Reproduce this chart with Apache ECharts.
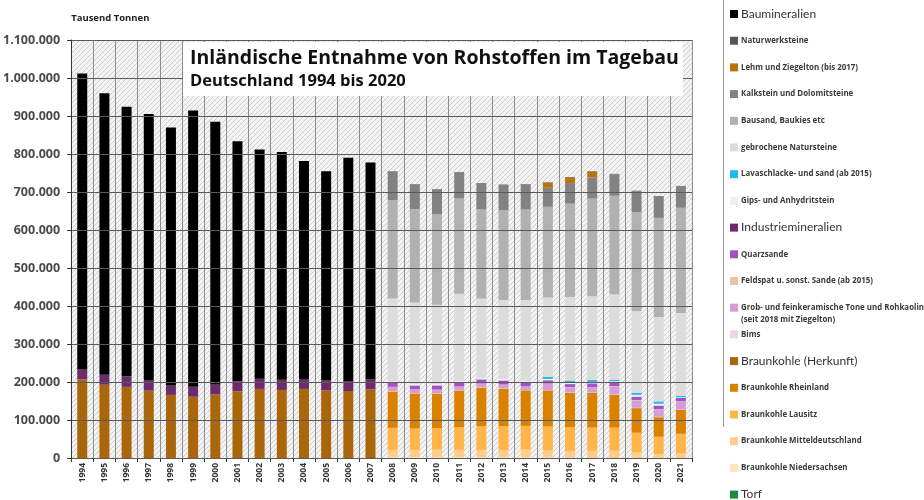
<!DOCTYPE html>
<html>
<head>
<meta charset='utf-8' />
<title>Entnahme von Rohstoffen im Tagebau</title>
<style>
html, body { margin: 0; padding: 0; background: #fff; }
#chart { width: 924px; height: 500px; }
</style>
</head>
<body>
<div id="chart"></div>
<script src="https://cdn.jsdelivr.net/npm/echarts@6/dist/echarts.min.js"></script>
<script>
// Werte in Mio. t (Achse zeigt Tausend Tonnen)
var years = ['1994','1995','1996','1997','1998','1999','2000','2001','2002','2003','2004','2005','2006','2007',
             '2008','2009','2010','2011','2012','2013','2014','2015','2016','2017','2018','2019','2020','2021'];

// 1994-2007: nur Hauptgruppen
var baumineralienOld = [779, 741, 710, 701, 679, 727, 691, 631, 603, 599, 574, 551, 588, 570];
var industrieOld     = [26, 26, 27, 27, 25, 26, 26, 27, 27, 27, 26, 26, 26, 27];
var braunkohleOld    = [207.1, 192.8, 187.2, 177.2, 166.0, 161.3, 167.7, 175.4, 181.8, 179.1, 181.9, 177.9, 176.3, 180.4];

// 2008-2021: Aufteilung
var naturwerk   = [1.5, 1.5, 1.5, 1.5, 1.5, 1.5, 1.5, 1.5, 1.5, 1.5, 1.5, 1.5, 1.5, 1.5];
var lehm        = ['-', '-', '-', '-', '-', '-', '-', 12.5, 14.5, 14.5, '-', '-', '-', '-'];
var kalkstein   = [74, 64, 65, 68, 67, 66, 65, 50, 54, 56, 56, 55, 56, 56];
var bausand     = [259, 246, 238, 251, 235, 236, 238, 239, 246, 257, 259, 260, 261, 277];
var gebrochen   = [218, 214, 208, 229, 209, 208, 213, 209, 220, 220, 226, 215, 222, 218];
var lava        = ['-', '-', '-', '-', '-', '-', '-', 5, 5, 5, 3, 5.5, 6, 3.5];
var gips        = [4, 4, 4, 4, 4, 4, 4, 3.5, 4, 4, 4, 5, 5, 2];
var quarzsande  = [10.5, 10, 10.6, 10.5, 10.6, 10.3, 9.8, 8.7, 8, 10.5, 8.9, 8.5, 9.5, 8.7];
var feldspat    = ['-', '-', '-', '-', '-', '-', '-', 1, 1, 1, 1, 1, 1, 1];
var tone        = [11, 10, 10, 11, 10, 10, 10, 15.8, 13, 12.7, 21, 19.5, 19, 21];
var bims        = [1.2, 1, 1, 1, 1, 1, 1, 1, 1, 1, 1, 1, 1, 1];
var rheinland   = [95.8, 92.2, 90.7, 95.6, 101.7, 98.8, 93.6, 95.2, 90.5, 91.3, 86.3, 64.8, 51.4, 62.6];
var lausitz     = [57.9, 56.3, 56.7, 59.4, 62.4, 63.6, 61.8, 62.5, 62.3, 61.2, 60.7, 52.1, 45.9, 51.9];
var mitteldt    = [19.4, 19.4, 20.0, 19.6, 19.2, 18.3, 20.9, 18.9, 17.7, 18.8, 19.3, 14.4, 10.1, 11.8];
var niedersachs = [2.1, 2.0, 2.0, 1.9, 2.1, 2.0, 1.9, 1.5, 1.0, '-', '-', '-', '-', '-'];
var torf        = [];

var yTicks = [0, 100, 200, 300, 400, 500, 600, 700, 800, 900, 1000, 1100];

function early(a) { return a.concat(Array(14).fill('-')); }
function late(a) { return a.length ? Array(14).fill('-').concat(a) : []; }

function fmt(v) {
  return String(Math.round(v * 1000)).replace(/\B(?=(\d{3})+(?!\d))/g, '.');
}

// schraffierter Hintergrund
var pc = document.createElement('canvas');
pc.width = 5; pc.height = 5;
var g = pc.getContext('2d');
g.fillStyle = '#f3f3f3';
g.fillRect(0, 0, 5, 5);
g.strokeStyle = '#cfcfcf';
g.lineWidth = 1;
g.beginPath();
g.moveTo(0, 5); g.lineTo(5, 0);
g.moveTo(-1, 1); g.lineTo(1, -1);
g.moveTo(4, 6); g.lineTo(6, 4);
g.stroke();

// Reihenfolge von unten nach oben
var stackDef = [
  ['Torf', '#1b8a3c', late(torf)],
  ['Braunkohle Niedersachsen', '#ffe4c2', late(niedersachs)],
  ['Braunkohle Mitteldeutschland', '#ffcd8a', late(mitteldt)],
  ['Braunkohle Lausitz', '#ffb548', late(lausitz)],
  ['Braunkohle Rheinland', '#da8200', late(rheinland)],
  ['Braunkohle (Herkunft)', '#a9660a', early(braunkohleOld)],
  ['Bims', '#ecd3ec', late(bims)],
  ['Grob- und feinkeramische Tone und Rohkaolin', '#d59cd5', late(tone)],
  ['Feldspat u. sonst. Sande (ab 2015)', '#e9c4ab', late(feldspat)],
  ['Quarzsande', '#a452c2', late(quarzsande)],
  ['Industriemineralien', '#6c2c6c', early(industrieOld)],
  ['Gips- und Anhydritstein', '#efefef', late(gips)],
  ['Lavaschlacke- und sand (ab 2015)', '#1cb9f2', late(lava)],
  ['gebrochene Natursteine', '#dcdcdc', late(gebrochen)],
  ['Bausand, Baukies etc', '#b1b1b1', late(bausand)],
  ['Kalkstein und Dolomitsteine', '#828282', late(kalkstein)],
  ['Lehm und Ziegelton (bis 2017)', '#bb7208', late(lehm)],
  ['Naturwerksteine', '#575757', late(naturwerk)],
  ['Baumineralien', '#000000', early(baumineralienOld)]
];

var bigNames = ['Baumineralien', 'Industriemineralien', 'Braunkohle (Herkunft)', 'Torf'];

var series = stackDef.map(function (d) {
  return {
    name: d[0],
    type: 'bar',
    stack: 'total',
    barWidth: '45%',
    data: d[2],
    itemStyle: { color: d[1] },
    emphasis: { disabled: true }
  };
});

var legends = stackDef.slice().reverse().map(function (d, i) {
  var big = bigNames.indexOf(d[0]) >= 0;
  return {
    data: [d[0]],
    left: 730,
    top: 7 + i * 26.7,
    padding: 0,
    itemGap: 0,
    itemWidth: 8,
    itemHeight: 8,
    icon: 'rect',
    selectedMode: false,
    textStyle: big
      ? { fontFamily: 'Lato', fontSize: 12, color: '#333', lineHeight: 14, padding: [0, 0, 0, -2] }
      : { fontFamily: 'Open Sans', fontSize: 7.9, fontWeight: 'bold', color: '#3a3a3a', lineHeight: 14, padding: [0, 0, 0, -2] }
  };
});

var chart = echarts.init(document.getElementById('chart'));
chart.setOption({
  animation: false,
  backgroundColor: '#fff',
  textStyle: { fontFamily: 'Open Sans' },
  title: {
    text: 'Inländische Entnahme von Rohstoffen im Tagebau',
    subtext: 'Deutschland 1994 bis 2020',
    left: 183,
    top: 42,
    padding: [6, 4, 6, 7],
    itemGap: 5,
    backgroundColor: '#fff',
    textStyle: { fontFamily: 'Open Sans', fontSize: 19.5, fontWeight: 'bold', color: '#111' },
    subtextStyle: { fontFamily: 'Open Sans', fontSize: 16.5, fontWeight: 'bold', color: '#111' }
  },
  legend: legends,
  grid: {
    left: 67, right: 232, top: 40, bottom: 42,
    show: true,
    borderWidth: 0,
    backgroundColor: { image: pc, repeat: 'repeat' }
  },
  xAxis: {
    type: 'category',
    data: years,
    boundaryGap: true,
    axisLine: { lineStyle: { color: '#333' } },
    axisTick: { show: true, length: 4, lineStyle: { color: '#333' } },
    axisLabel: { interval: 0, rotate: 90, margin: 5, fontSize: 8.5, fontWeight: 'bold', color: '#333' },
    splitLine: { show: true, interval: 0, lineStyle: { color: '#8c8c8c' } }
  },
  yAxis: {
    type: 'value',
    min: yTicks[0],
    max: yTicks[yTicks.length - 1],
    interval: yTicks[1] - yTicks[0],
    z: 3,
    name: 'Tausend Tonnen',
    nameLocation: 'end',
    nameGap: 17,
    nameTextStyle: { align: 'left', fontSize: 9.5, fontWeight: 'bold', color: '#222' },
    axisLine: { show: true, lineStyle: { color: '#333' } },
    axisTick: { show: true, length: 4, lineStyle: { color: '#333' } },
    axisLabel: { formatter: fmt, margin: 11, fontSize: 12.5, fontWeight: 'bold', color: '#4a4a4a' },
    splitLine: { show: true, lineStyle: { color: '#5a5a5a' } }
  },
  graphic: [
    {
      type: 'line',
      shape: { x1: 723.5, y1: 0, x2: 723.5, y2: 427 },
      style: { stroke: '#9a9a9a', lineWidth: 1 }
    },
    {
      type: 'text',
      left: 741,
      top: 316,
      style: { text: '(seit 2018 mit Ziegelton)', font: 'bold 7.9px "Open Sans"', fill: '#3a3a3a' }
    }
  ],
  series: series
});
</script>
</body>
</html>
